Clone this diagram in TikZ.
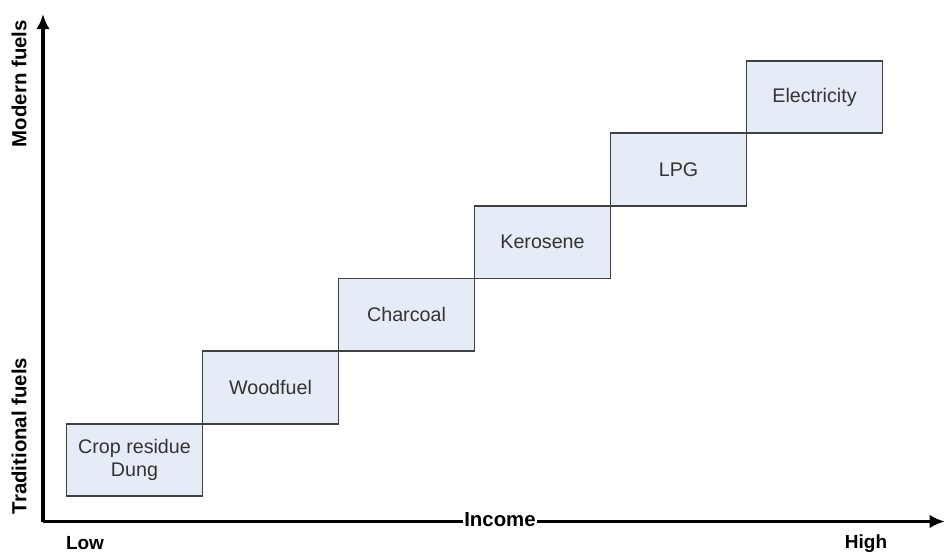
\documentclass[tikz,border=0pt]{standalone}
\usepackage{fontspec}
\setmainfont{Liberation Sans}
\usepackage{xcolor}
\usepackage{tikz}
\usetikzlibrary{arrows.meta,positioning}

\definecolor{fuelfill}{HTML}{E6ECF7}
\definecolor{fuelline}{HTML}{404040}
\definecolor{fueltext}{HTML}{333333}

\begin{document}
\begin{tikzpicture}[
  fuel/.style={draw=fuelline, line width=1.4pt, fill=fuelfill, text=fueltext,
    minimum width=3.4cm, minimum height=1.815cm, inner sep=0pt, outer sep=0pt,
    align=center, font=\fontsize{14}{16.5}\selectfont},
  axis/.style={-{Latex[length=0.38cm,width=0.34cm]}, line width=2.5pt},
  axlabel/.style={font=\fontsize{14.5}{17}\selectfont\bfseries}
]
\useasboundingbox (0,0) rectangle (23.65,13.85);
% axes
\coordinate (o) at (1.075,0.8125);
\coordinate (ytop) at (1.075,13.5);
\coordinate (xend) at (23.62,0.8125);
\draw[axis] (o) -- (ytop);
\draw[axis] (o) -- (xend);
\node[axlabel, fill=white, inner sep=1pt] (inc) at (12.5,0.85) {Income};
\node[axlabel, rotate=90] (modern) at (0.48,11.76) {Modern fuels};
\node[axlabel, rotate=90] (trad) at (0.48,2.95) {Traditional fuels};
\node[axlabel, font=\fontsize{13.5}{16}\selectfont\bfseries] (low) at (2.125,0.27) {Low};
\node[axlabel, font=\fontsize{13.5}{16}\selectfont\bfseries] (high) at (21.65,0.25) {High};
% fuel ladder
\node[fuel] (crop) at (3.3625,2.35) {Crop residue\\Dung};
\node[fuel, above right=0pt of crop] (wood) {Woodfuel};
\node[fuel, above right=0pt of wood] (char) {Charcoal};
\node[fuel, above right=0pt of char] (kero) {Kerosene};
\node[fuel, above right=0pt of kero] (lpg) {LPG};
\node[fuel, above right=0pt of lpg] (elec) {Electricity};
\end{tikzpicture}
\end{document}
